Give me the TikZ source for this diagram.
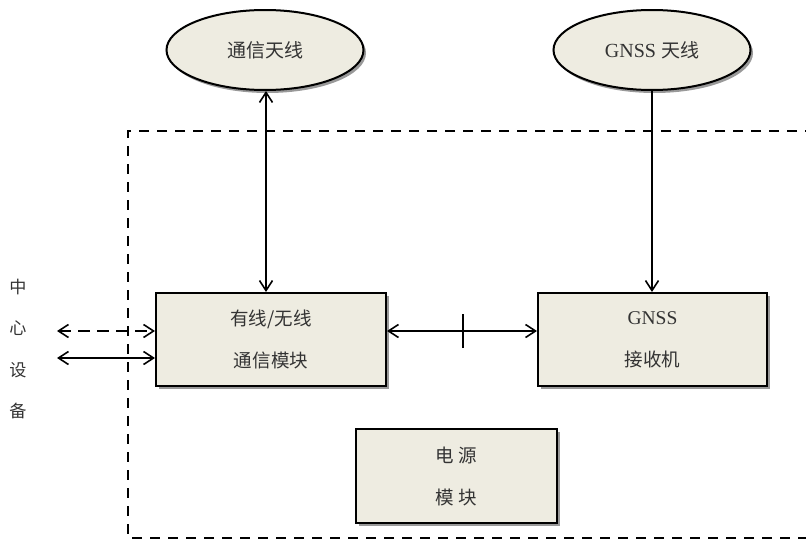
\documentclass[tikz,border=0pt]{standalone}
\usepackage{fontspec}
\setmainfont{Liberation Serif}
\newfontfamily\cjk{Noto Sans CJK SC}[Scale=0.95]
\usetikzlibrary{arrows.meta,shadows,calc,shapes.geometric}
\definecolor{boxfill}{HTML}{EEECE1}
\definecolor{txt}{HTML}{333333}
\tikzset{
  x=1pt, y=-1pt,
  shad/.style={drop shadow={shadow xshift=2.5pt, shadow yshift=-3pt, fill=black!40, opacity=1}},
  antenna/.style={ellipse, draw, line width=2pt, fill=boxfill, shad, minimum width=197pt, minimum height=80pt, inner sep=0pt, text=txt, font=\fontsize{20}{22}\selectfont},
  module/.style={rectangle, draw, line width=2pt, fill=boxfill, shad, inner sep=0pt, text=txt, align=center, font=\fontsize{19.5}{42}\selectfont},
  mytip/.tip={Straight Barb[length=10pt,width=13pt,line width=1.6pt]},
  link/.style={line width=1.8pt, -{mytip}},
  dlink/.style={line width=1.8pt, {mytip}-{mytip}},
  border/.style={line width=2.3pt, dash pattern=on 10pt off 8pt},
  side/.style={text=txt, font=\cjk\fontsize{18}{18}\selectfont}
}
\begin{document}
\begin{tikzpicture}
\useasboundingbox (0,0) rectangle (806,541);
\clip (0,0) rectangle (806,541);
% dashed enclosure
\coordinate (tr) at (815,131);
\coordinate (tl) at (128,131);
\coordinate (bl) at (128,538);
\coordinate (br) at (815,538);
\draw[border] (tr) -- (tl) -- (bl) -- (br);
% antennas
\node[antenna] (e1) at (265,50) {\cjk 通信天线};
\node[antenna] (e2) at (652,50) {GNSS {\cjk 天线}};
% modules
\node[module, minimum width=230pt, minimum height=93pt] (b1) at (271,339.5) {\cjk 有线/无线\\\cjk 通信模块};
\node[module, minimum width=229pt, minimum height=93pt] (b2) at (652.5,339.5) {GNSS\\\cjk 接收机};
\node[module, minimum width=201pt, minimum height=94pt] (b3) at (456.5,476) {\cjk 电\ 源\\\cjk 模\ 块};
% side label
\node[side] (s1) at (18,287) {中};
\node[side] (s2) at (18,328) {心};
\node[side] (s3) at (18,370) {设};
\node[side] (s4) at (18,411) {备};
% connectors
\coordinate (v1) at (266,0);
\draw[dlink] (v1 |- e1.south) -- (v1 |- b1.north);
\coordinate (v2) at (652,0);
\draw[link] (v2 |- e2.south) -- (v2 |- b2.north);
\coordinate (h) at (463,331);
\draw[dlink] (h -| b1.east) -- (h -| b2.west);
\draw[line width=2.4pt] ([yshift=-17pt]h) -- ([yshift=17pt]h);
\coordinate (l1) at (57,331);
\draw[dlink, dash pattern=on 12pt off 7pt] (l1) -- (l1 -| b1.west);
\coordinate (l2) at (57,358);
\draw[dlink] (l2) -- (l2 -| b1.west);
\end{tikzpicture}
\end{document}
